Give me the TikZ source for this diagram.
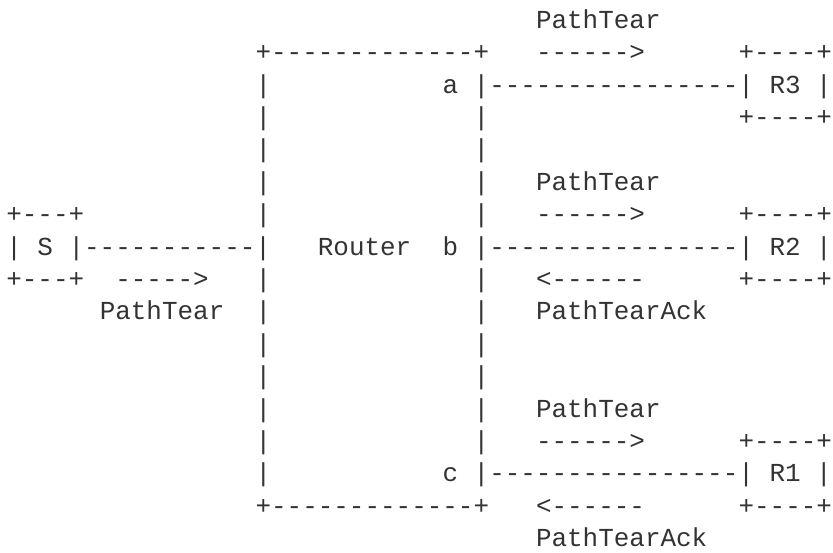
\documentclass[tikz,border=0pt]{standalone}
\usepackage{fontspec}
\setmonofont{Liberation Mono}
\definecolor{ink}{HTML}{333333}
\tikzset{
  txt/.style={anchor=base west, inner sep=0pt, outer sep=0pt, text=ink,
    font=\ttfamily\fontsize{25.95}{31}\selectfont}
}
% #1 name, #2 column, #3 row, #4 text
\newcommand\frag[4]{\node[txt] (#1) at ({#2+0.404},{#3+0.873}) {#4};}
\begin{document}
\begin{tikzpicture}[x=15.58pt, y=-32.4pt]
\fill[white] (0pt,0pt) rectangle (833pt,-552pt);
\useasboundingbox (0pt,0pt) rectangle (833pt,-552pt);
% row 0
\frag{tearA}{34}{0}{PathTear}
% row 1
\frag{rtop}{16}{1}{+-------------+}
\frag{arrA}{34}{1}{------>}
\frag{rthreetop}{47}{1}{+----+}
% row 2
\frag{wl2}{16}{2}{|}
\frag{porta}{28}{2}{a}
\frag{linkA}{30}{2}{|----------------| R3 |}
% row 3
\frag{wl3}{16}{3}{|}
\frag{wr3}{30}{3}{|}
\frag{rthreebot}{47}{3}{+----+}
% row 4
\frag{wl4}{16}{4}{|}
\frag{wr4}{30}{4}{|}
% row 5
\frag{wl5}{16}{5}{|}
\frag{wr5}{30}{5}{|}
\frag{tearB}{34}{5}{PathTear}
% row 6
\frag{stop}{0}{6}{+---+}
\frag{wl6}{16}{6}{|}
\frag{wr6}{30}{6}{|}
\frag{arrB}{34}{6}{------>}
\frag{rtwotop}{47}{6}{+----+}
% row 7
\frag{linkS}{0}{7}{| S |-----------|}
\frag{router}{20}{7}{Router}
\frag{portb}{28}{7}{b}
\frag{linkB}{30}{7}{|----------------| R2 |}
% row 8
\frag{sbot}{0}{8}{+---+}
\frag{arrS}{7}{8}{----->}
\frag{wl8}{16}{8}{|}
\frag{wr8}{30}{8}{|}
\frag{ackarrB}{34}{8}{<------}
\frag{rtwobot}{47}{8}{+----+}
% row 9
\frag{tearS}{6}{9}{PathTear}
\frag{wl9}{16}{9}{|}
\frag{wr9}{30}{9}{|}
\frag{ackB}{34}{9}{PathTearAck}
% row 10
\frag{wl10}{16}{10}{|}
\frag{wr10}{30}{10}{|}
% row 11
\frag{wl11}{16}{11}{|}
\frag{wr11}{30}{11}{|}
% row 12
\frag{wl12}{16}{12}{|}
\frag{wr12}{30}{12}{|}
\frag{tearC}{34}{12}{PathTear}
% row 13
\frag{wl13}{16}{13}{|}
\frag{wr13}{30}{13}{|}
\frag{arrC}{34}{13}{------>}
\frag{ronetop}{47}{13}{+----+}
% row 14
\frag{wl14}{16}{14}{|}
\frag{portc}{28}{14}{c}
\frag{linkC}{30}{14}{|----------------| R1 |}
% row 15
\frag{rbot}{16}{15}{+-------------+}
\frag{ackarrC}{34}{15}{<------}
\frag{ronebot}{47}{15}{+----+}
% row 16
\frag{ackC}{34}{16}{PathTearAck}
\end{tikzpicture}
\end{document}
